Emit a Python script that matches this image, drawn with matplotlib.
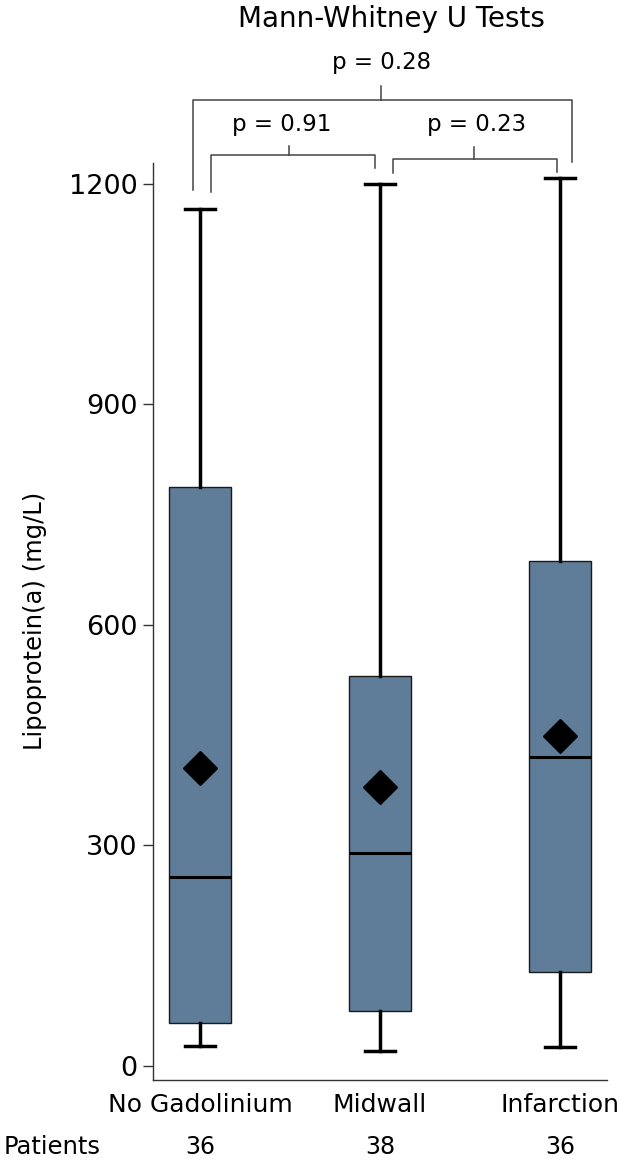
import matplotlib
matplotlib.use("Agg")
import matplotlib.pyplot as plt
from matplotlib.transforms import blended_transform_factory
from matplotlib.lines import Line2D

# ---- data ----
groups = ["No Gadolinium", "Midwall", "Infarction"]
patients = [36, 38, 36]
whisker_low = [27, 20, 26]
q1 = [58, 75, 128]
median = [257, 290, 420]
q3 = [788, 530, 687]
whisker_high = [1165, 1199, 1207]
means = [405, 379, 449]
yticks = [0, 300, 600, 900, 1200]
p_labels = ["p = 0.28", "p = 0.91", "p = 0.23"]

W, H = 625, 1163
fig = plt.figure(figsize=(W / 100, H / 100), dpi=100)
ax = fig.add_axes([153 / W, (H - 1080) / H, (607 - 153) / W, (1080 - 163) / H])

positions = [1, 2, 3]
stats = []
for i, g in enumerate(groups):
    stats.append(dict(label=g, whislo=whisker_low[i], q1=q1[i], med=median[i],
                      q3=q3[i], whishi=whisker_high[i], mean=means[i], fliers=[]))

box_color = "#5f7d99"
ax.bxp(stats, positions=positions, widths=0.344, capwidths=0.172,
       showmeans=True, patch_artist=True, showfliers=False,
       boxprops=dict(facecolor=box_color, edgecolor="#1a1a1a", linewidth=1.0),
       medianprops=dict(color="black", linewidth=2.2),
       whiskerprops=dict(color="black", linewidth=2.5),
       capprops=dict(color="black", linewidth=2.5),
       meanprops=dict(marker="D", markerfacecolor="black", markeredgecolor="black",
                      markersize=17.5))

ax.set_xlim(0.739, 3.261)
ax.set_ylim(-19, 1228)
ax.set_yticks(yticks)
ax.set_yticklabels([str(t) for t in yticks], fontsize=19.5)
ax.set_xticks(positions)
ax.set_xticklabels(groups, fontsize=18)
ax.tick_params(axis="x", length=0, pad=9)
ax.tick_params(axis="y", length=7, width=1, color="#333333", pad=4)
for s in ["top", "right"]:
    ax.spines[s].set_visible(False)
for s in ["left", "bottom"]:
    ax.spines[s].set_color("#333333")
    ax.spines[s].set_linewidth(1.0)

# y-axis title
fig.text(35 / W, 1 - 621 / H, "Lipoprotein(a) (mg/L)", rotation=90,
         ha="center", va="center", fontsize=17.5)

# ---- comparison brackets (x in data units, y in figure pixels from top) ----
tr = blended_transform_factory(ax.transData, fig.transFigure)
def fy(p):
    return 1 - p / H

brackets = [
    # x_left, x_right, y_bar, y_left_end, y_right_end, x_mid, y_mid_top, text_x, text_y
    (0.961, 3.067, 100, 190, 162, 2.006, 86, 2.011, 62),
    (1.061, 1.972, 155, 192, 168, 1.494, 146, 1.456, 125),
    (2.072, 2.983, 159, 173, 172, 2.522, 147, 2.539, 125),
]
for (xl, xr, yb, yl, yr, xm, ym, tx, ty), lab in zip(brackets, p_labels):
    xs = [xl, xl, xr, xr]
    ys = [fy(yl), fy(yb), fy(yb), fy(yr)]
    fig.add_artist(Line2D(xs, ys, transform=tr, color="#444444", lw=1.1))
    fig.add_artist(Line2D([xm, xm], [fy(yb), fy(ym)], transform=tr, color="#444444", lw=1.1))
    fig.text(tx, fy(ty), lab, transform=tr, ha="center", va="center", fontsize=16.5)

fig.text(2.061, fy(19), "Mann-Whitney U Tests", transform=tr, ha="center", va="center",
         fontsize=20)

# ---- patient counts ----
fig.text(4 / W, fy(1147), "Patients", ha="left", va="center", fontsize=17.5)
for x, n in zip(positions, patients):
    fig.text(x, fy(1147), str(n), transform=tr, ha="center", va="center", fontsize=17)

fig.savefig("out.png", dpi=100)
